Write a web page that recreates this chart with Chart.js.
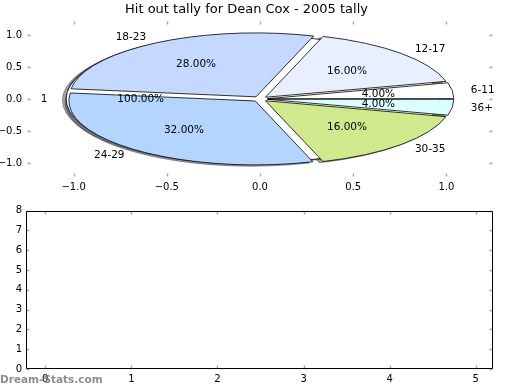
<!DOCTYPE html>
<html>
<head>
<meta charset="utf-8">
<script src="https://cdn.jsdelivr.net/npm/chart.js@4.4.1/dist/chart.umd.min.js"></script>
<style>
  body { margin: 0; background: #fff; }
  #wrap { position: relative; width: 520px; height: 390px; }
  #top { position: absolute; left: 0; top: 0; }
  #bottom { position: absolute; left: 0; top: 200px; }
  #mark {
    position: absolute; left: 0; top: 373px;
    font: bold 10.5px "DejaVu Sans", sans-serif; color: rgba(120, 120, 120, 0.85);
  }
</style>
</head>
<body>
<div id="wrap">
  <canvas id="top" width="520" height="200"></canvas>
  <canvas id="bottom" width="520" height="190"></canvas>
  <div id="mark">Dream-Stats.com</div>
</div>
<script>
const titleText = "Hit out tally for Dean Cox - 2005 tally";

// age groups, hit outs per group
const ageGroups = ["6-11", "12-17", "18-23", "24-29", "30-35", "36+"];
const hitOuts = [1, 4, 7, 8, 4, 1];
const groupColors = ["#ffffff", "#e8f0ff", "#c5d8ff", "#b4d5ff", "#cfe98c", "#d9ffff"];

// the whole-season pie drawn underneath
const totalLabels = ["1"];
const totalValues = [25];
const totalColors = ["#ffffff"];

const explode = 0.04;

const pieXTicks = [-1.0, -0.5, 0.0, 0.5, 1.0];
const pieYTicks = [-1.0, -0.5, 0.0, 0.5, 1.0];
const emptyXTicks = [0, 1, 2, 3, 4, 5];
const emptyYTicks = [0, 1, 2, 3, 4, 5, 6, 7, 8];

const FONT = "'DejaVu Sans', sans-serif";
const rad = Math.PI / 180;

function makeWedges(values, labels, colors) {
  const total = values.reduce((a, b) => a + b, 0);
  let a = 0;
  return values.map((v, i) => {
    const t1 = a, t2 = a + v / total * 360;
    a = t2;
    const mid = (t1 + t2) / 2 * rad;
    return {
      t1, t2, mid,
      cx: explode * Math.cos(mid), cy: explode * Math.sin(mid),
      pct: v / total * 100, label: labels[i], color: colors[i]
    };
  });
}

function shade(hex) {
  const n = parseInt(hex.slice(1), 16);
  const r = Math.round(((n >> 16) & 255) * 0.3), g = Math.round(((n >> 8) & 255) * 0.3), b = Math.round((n & 255) * 0.3);
  return `rgba(${r},${g},${b},0.5)`;
}

function wedgePath(ctx, xs, ys, w, dx, dy) {
  const px = xs.getPixelForValue(w.cx + dx), py = ys.getPixelForValue(w.cy + dy);
  const rx = xs.getPixelForValue(1) - xs.getPixelForValue(0);
  const ry = ys.getPixelForValue(0) - ys.getPixelForValue(1);
  ctx.beginPath();
  if (w.t2 - w.t1 >= 359.999) {
    ctx.ellipse(px, py, rx, ry, 0, 0, 2 * Math.PI);
  } else {
    ctx.moveTo(px, py);
    ctx.ellipse(px, py, rx, ry, 0, -w.t1 * rad, -w.t2 * rad, true);
    ctx.closePath();
  }
}

const piePlugin = {
  id: "ellipsePie",
  afterDatasetsDraw(chart) {
    const ctx = chart.ctx, xs = chart.scales.x, ys = chart.scales.y;
    const under = makeWedges(totalValues, totalLabels, totalColors);
    const slices = makeWedges(hitOuts, ageGroups, groupColors);
    const all = under.concat(slices);
    ctx.save();
    // shadows first
    all.forEach(w => {
      wedgePath(ctx, xs, ys, w, -0.02, -0.02);
      ctx.fillStyle = shade(w.color);
      ctx.strokeStyle = shade(w.color);
      ctx.lineWidth = 1;
      ctx.fill();
      ctx.stroke();
    });
    all.forEach(w => {
      wedgePath(ctx, xs, ys, w, 0, 0);
      ctx.fillStyle = w.color;
      ctx.strokeStyle = "#000";
      ctx.lineWidth = 0.8;
      ctx.fill();
      ctx.stroke();
    });
    ctx.fillStyle = "#000";
    ctx.font = "10.5px " + FONT;
    ctx.textBaseline = "middle";
    all.forEach(w => {
      const lx = w.cx + 1.1 * Math.cos(w.mid), ly = w.cy + 1.1 * Math.sin(w.mid);
      ctx.textAlign = lx > 0 ? "left" : "right";
      ctx.fillText(w.label, xs.getPixelForValue(lx), ys.getPixelForValue(ly));
      const qx = w.cx + 0.6 * Math.cos(w.mid), qy = w.cy + 0.6 * Math.sin(w.mid);
      ctx.textAlign = "center";
      ctx.fillText(w.pct.toFixed(2) + "%", xs.getPixelForValue(qx), ys.getPixelForValue(qy));
    });
    ctx.restore();
  }
};

// matplotlib style inward ticks on all four sides, optional black box
function drawFrame(chart, frame) {
  const ctx = chart.ctx, a = chart.chartArea, xs = chart.scales.x, ys = chart.scales.y;
  const L = Math.round(a.left) + 0.5, R = Math.round(a.right) - 0.5;
  const T = Math.round(a.top) + 0.5, B = Math.round(a.bottom) - 0.5;
  ctx.save();
  ctx.setLineDash([]);
  ctx.strokeStyle = "#a8a8a8";
  ctx.lineWidth = 1.5;
  ctx.beginPath();
  xs.ticks.forEach(t => {
    const x = Math.round(xs.getPixelForValue(t.value)) + 0.5;
    ctx.moveTo(x, B); ctx.lineTo(x, B - 3);
    ctx.moveTo(x, T); ctx.lineTo(x, T + 3);
  });
  ys.ticks.forEach(t => {
    const y = Math.round(ys.getPixelForValue(t.value)) + 0.5;
    ctx.moveTo(L, y); ctx.lineTo(L + 3, y);
    ctx.moveTo(R, y); ctx.lineTo(R - 3, y);
  });
  ctx.stroke();
  if (frame) {
    ctx.beginPath();
    ctx.moveTo(L, T); ctx.lineTo(R, T); ctx.lineTo(R, B); ctx.lineTo(L, B); ctx.closePath();
    ctx.strokeStyle = "#000000";
    ctx.lineWidth = 1;
    ctx.stroke();
  }
  ctx.restore();
}

const pieTicks = { id: "pieTicks", afterDatasetsDraw(chart) { drawFrame(chart, false); } };
const boxTicks = { id: "boxTicks", afterDatasetsDraw(chart) { drawFrame(chart, true); } };

function axis(min, max, values, fmt, fit, pad) {
  return {
    type: "linear", min, max,
    afterBuildTicks: s => { s.ticks = values.map(v => ({ value: v })); },
    afterFit: fit,
    grid: { display: false, drawTicks: false },
    border: { display: false },
    ticks: {
      autoSkip: false, maxRotation: 0, padding: pad, color: "#000",
      font: { family: FONT, size: 10 },
      callback: fmt
    }
  };
}

const minus = v => v.toFixed(1).replace("-", "\u2212");
const plain = v => String(v);

new Chart(document.getElementById("top"), {
  type: "scatter",
  data: { datasets: [{ data: [], pointRadius: 0 }] },
  options: {
    responsive: false, animation: false, devicePixelRatio: 1,
    layout: { padding: { left: 0, right: 27, top: 0, bottom: 0 } },
    plugins: {
      legend: { display: false }, tooltip: { enabled: false },
      title: {
        display: true, text: titleText, color: "#000",
        font: { family: FONT, size: 13, weight: "normal", lineHeight: 1.2 },
        padding: { top: 2, bottom: 3.4 }
      }
    },
    scales: {
      x: axis(-1.25, 1.25, pieXTicks, minus, s => { s.height = 23; }, 4),
      y: axis(-1.22, 1.22, pieYTicks, minus, s => { s.width = 27; }, 5)
    }
  },
  plugins: [piePlugin, pieTicks]
});

new Chart(document.getElementById("bottom"), {
  type: "scatter",
  data: { datasets: [{ data: [], pointRadius: 0 }] },
  options: {
    responsive: false, animation: false, devicePixelRatio: 1,
    layout: { padding: { left: 0, right: 27, top: 10.7, bottom: 0 } },
    plugins: { legend: { display: false }, tooltip: { enabled: false } },
    scales: {
      x: axis(-0.23, 5.2, emptyXTicks, plain, s => { s.height = 21; }, 4),
      y: axis(0, 8, emptyYTicks, plain, s => { s.width = 25.5; }, 3.5)
    }
  },
  plugins: [boxTicks]
});
</script>
</body>
</html>
